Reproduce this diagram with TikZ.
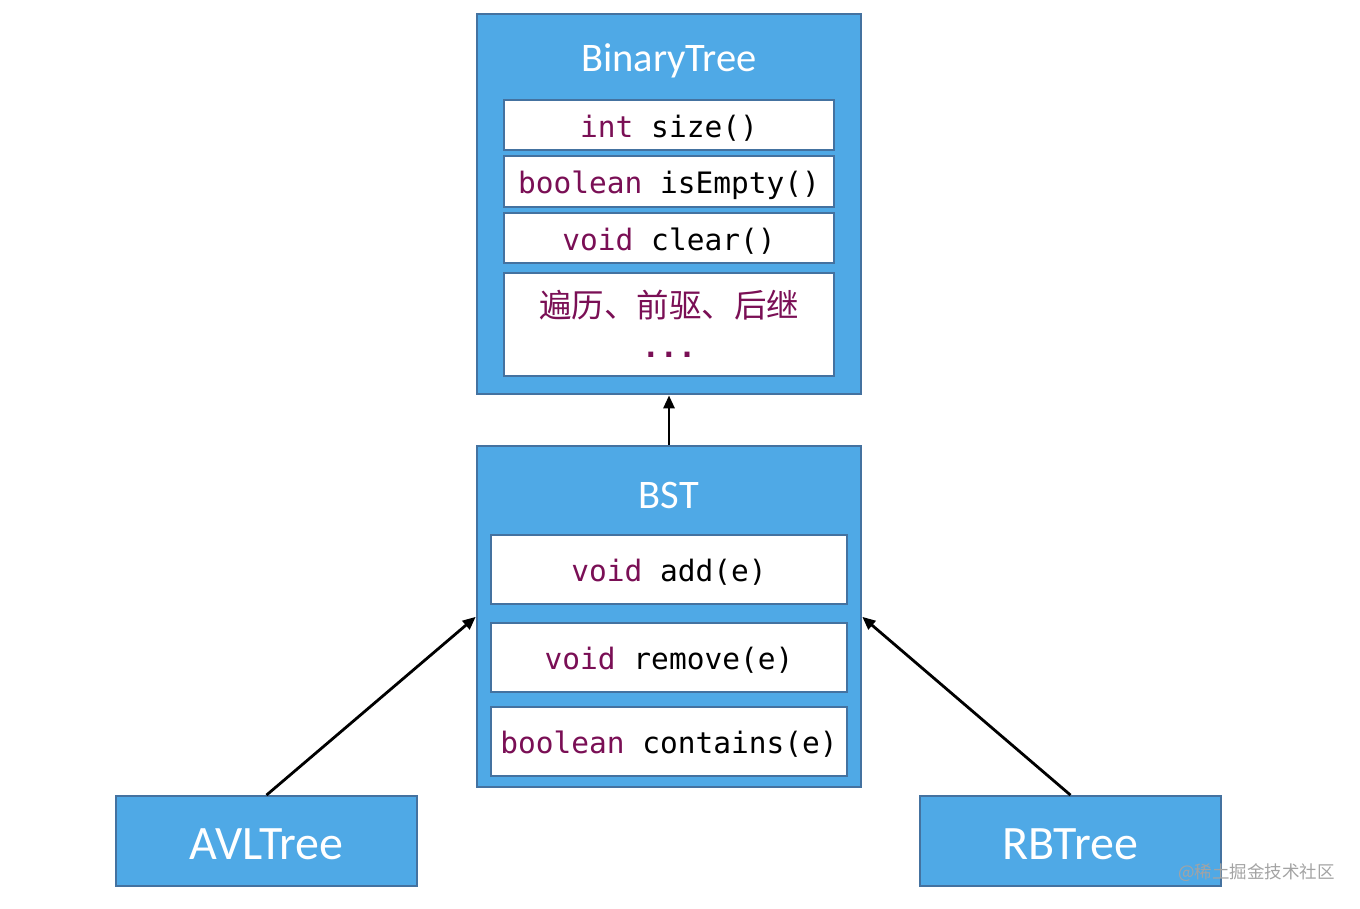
\documentclass[tikz,border=0pt]{standalone}
\usepackage{fontspec}
\setmainfont{Carlito}
\newfontfamily\codefont{DejaVu Sans Mono}
\newfontfamily\cjk{Noto Sans CJK SC}
\usetikzlibrary{arrows.meta}
\definecolor{boxblue}{HTML}{4FA9E6}
\definecolor{boxedge}{HTML}{4472A0}
\definecolor{kw}{HTML}{7A0F55}
\definecolor{wm}{HTML}{A3A3A3}
\tikzset{
  classbox/.style={draw=boxedge, fill=boxblue, line width=1.8pt, inner sep=0pt},
  leaftext/.style={font=\fontsize{48}{54}\selectfont, text=white, inner sep=0pt, anchor=base},
  titletext/.style={font=\fontsize{40.5}{46}\selectfont, text=white, inner sep=0pt, anchor=base},
  methbox/.style={draw=boxedge, fill=white, line width=1.6pt, inner sep=0pt,
    text height=25pt, text depth=1pt,
    font=\codefont\fontsize{29.5}{34}\selectfont, text=black},
  plaintext/.style={inner sep=0pt, anchor=base, text=kw},
  inherit/.style={-{Triangle[length=13pt,width=11pt]}, line width=2.8pt, black, shorten >=0.5pt},
}
\begin{document}
\begin{tikzpicture}[x=1pt,y=-1pt]
\useasboundingbox (0,0) rectangle (1360,908);
% BinaryTree
\node[classbox, minimum width=384pt, minimum height=380pt] (bt) at (669,204) {};
\node[titletext] (btt) at (669,71) {BinaryTree};
\node[methbox, minimum width=330pt, minimum height=50pt] (m1) at (669,125) {\textcolor{kw}{int} size()};
\node[methbox, minimum width=330pt, minimum height=51pt] (m2) at (669,181.5) {\textcolor{kw}{boolean} isEmpty()};
\node[methbox, minimum width=330pt, minimum height=50pt] (m3) at (669,238) {\textcolor{kw}{void} clear()};
\node[methbox, minimum width=330pt, minimum height=103pt] (m4) at (669,324.5) {};
\node[plaintext, font=\cjk\fontsize{32.5}{38}\selectfont] (trav) at (669,317) {遍历、前驱、后继};
\node[plaintext, font=\codefont\bfseries\fontsize{30}{34}\selectfont] (dots) at (669,357) {...};
% BST
\node[classbox, minimum width=384pt, minimum height=341pt] (bst) at (669,616.5) {};
\node[titletext] (bstt) at (669,508) {BST};
\node[methbox, minimum width=356pt, minimum height=69pt] (b1) at (669,569.5) {\textcolor{kw}{void} add(e)};
\node[methbox, minimum width=356pt, minimum height=69pt] (b2) at (669,657.5) {\textcolor{kw}{void} remove(e)};
\node[methbox, minimum width=356pt, minimum height=69pt] (b3) at (669,741.5) {\textcolor{kw}{boolean} contains(e)};
% leaves
\node[classbox, minimum width=301pt, minimum height=90pt] (avl) at (266.5,841) {};
\node[leaftext] (avlt) at (266.5,859) {AVLTree};
\node[classbox, minimum width=301pt, minimum height=90pt] (rb) at (1070.5,841) {};
\node[leaftext] (rbt) at (1070.5,859) {RBTree};
% arrows
\draw[inherit] (bst.north) -- (bt.south);
\draw[inherit] (avl.north) -- (bst.west);
\draw[inherit] (rb.north) -- (bst.east);
% watermark
\node[anchor=east, text=wm, font=\cjk\fontsize{17.5}{20}\selectfont, inner sep=0pt] (wmk) at (1335,873) {@稀土掘金技术社区};
\end{tikzpicture}
\end{document}
